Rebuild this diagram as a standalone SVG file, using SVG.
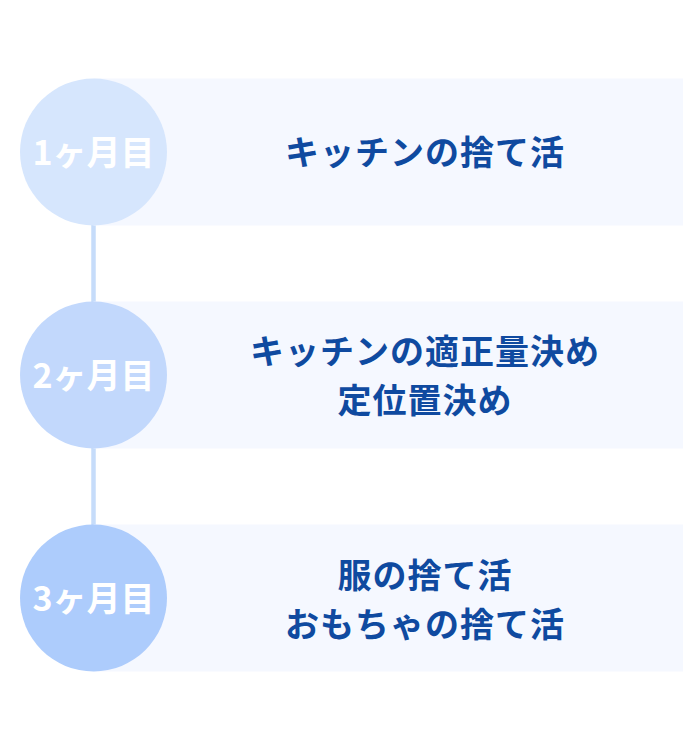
<svg xmlns="http://www.w3.org/2000/svg" width="700" height="750" viewBox="0 0 700 750">
<style>
.panel{fill:#F5F8FF}
.step{font-family:"Noto Sans CJK JP","Noto Sans",sans-serif;font-weight:700;font-size:34px;fill:#FFFFFF;text-anchor:middle}
.txt{font-family:"Noto Sans CJK JP","Noto Sans",sans-serif;font-weight:700;font-size:34px;fill:#0F4AA0;text-anchor:middle;letter-spacing:1px}
.conn{stroke:#C6DCFA;stroke-width:4.5;fill:none}
</style>
<rect width="700" height="750" fill="#FFFFFF"/>
<g id="connectors">
<line class="conn" x1="93.5" y1="225" x2="93.5" y2="302"/>
<line class="conn" x1="93.5" y1="448" x2="93.5" y2="525"/>
</g>
<g id="step1">
<rect class="panel" x="93.5" y="78.5" width="589.5" height="147"/>
<circle cx="93.5" cy="152" r="73.5" fill="#D6E6FD"/>
<text class="step" x="93.5" y="165">1ヶ月目</text>
<text class="txt" x="425" y="164.5">キッチンの捨て活</text>
</g>
<g id="step2">
<rect class="panel" x="93.5" y="301.5" width="589.5" height="147"/>
<circle cx="93.5" cy="375" r="73.5" fill="#C2D8FC"/>
<text class="step" x="93.5" y="388">2ヶ月目</text>
<text class="txt" x="425" y="363.5">キッチンの適正量決め</text>
<text class="txt" x="425" y="412.5">定位置決め</text>
</g>
<g id="step3">
<rect class="panel" x="93.5" y="524.5" width="589.5" height="147"/>
<circle cx="93.5" cy="598" r="73.5" fill="#ADCCFC"/>
<text class="step" x="93.5" y="611">3ヶ月目</text>
<text class="txt" x="425" y="588">服の捨て活</text>
<text class="txt" x="425" y="636.5">おもちゃの捨て活</text>
</g>
</svg>
